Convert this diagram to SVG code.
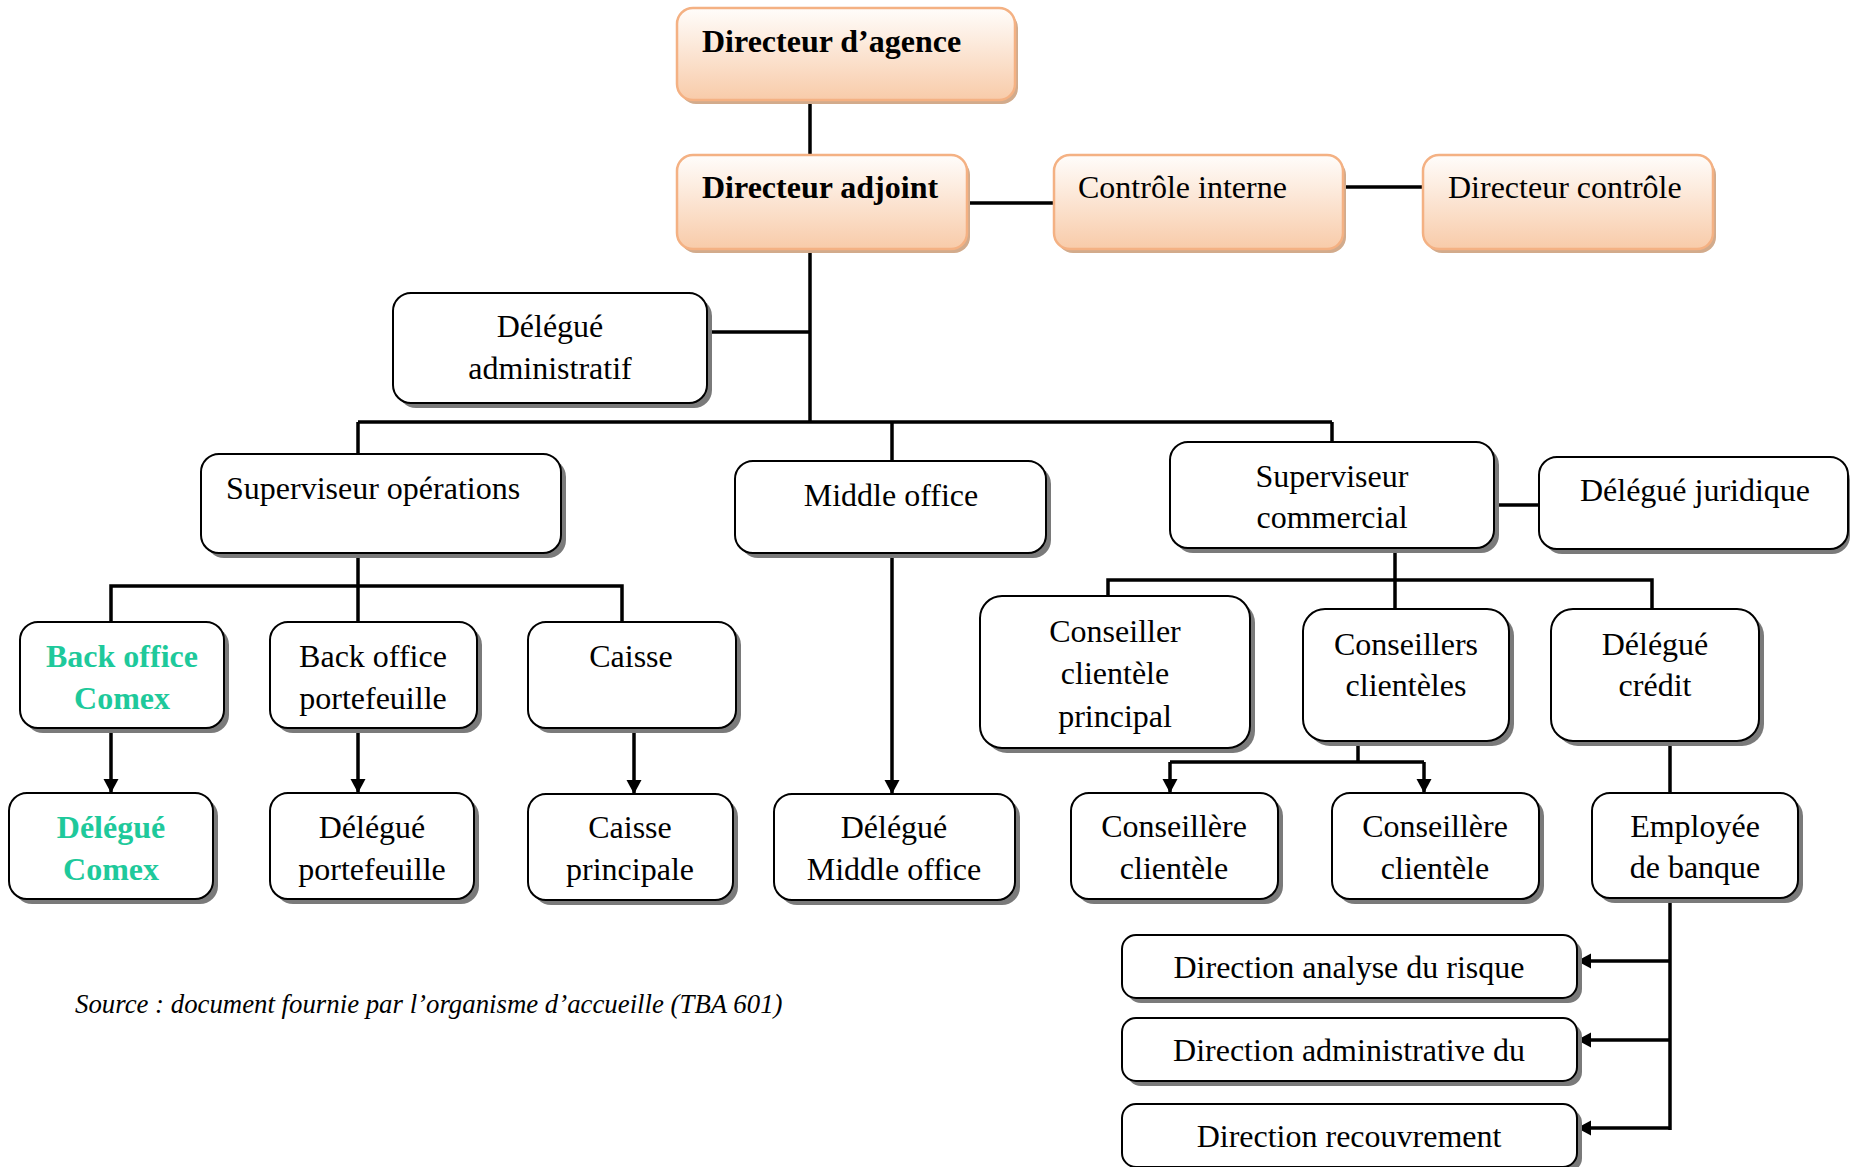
<svg xmlns="http://www.w3.org/2000/svg" width="1852" height="1167" viewBox="0 0 1852 1167">
  <style>
    text { font-family: "Liberation Serif", "Times New Roman", serif; font-size: 32px; fill: #000; }
    .b { font-weight: bold; }
    .g { fill: #1ec99b; font-weight: bold; }
    .c { text-anchor: middle; }
    .box { fill: #fff; stroke: #000; stroke-width: 2; }
    .sh { fill: #7a7a7a; }
    .obox { fill: url(#peach); stroke: #f4b183; stroke-width: 2.5; }
    .osh { fill: #d2ab8c; }
    .ln { fill: none; stroke: #000; stroke-width: 3.5; }
    .ar { fill: none; stroke: #000; stroke-width: 3.5; marker-end: url(#tip); }
    .src { font-size: 26.8px; font-style: italic; }
  </style>
  <defs>
    <linearGradient id="peach" x1="0" y1="0" x2="0" y2="1">
      <stop offset="0" stop-color="#fffdfb"/>
      <stop offset="1" stop-color="#f8cba9"/>
    </linearGradient>
    <marker id="tip" markerUnits="userSpaceOnUse" markerWidth="16" markerHeight="16" refX="14" refY="8" orient="auto">
      <path d="M0,0.5 L14,8 L0,15.5 z" fill="#000"/>
    </marker>
  </defs>

  <!-- connectors -->
  <g id="connectors">
    <path class="ln" d="M810,100 V155"/>
    <path class="ln" d="M967,203 H1054"/>
    <path class="ln" d="M1343,187 H1423"/>
    <path class="ln" d="M810,249 V422"/>
    <path class="ln" d="M707,332 H810"/>
    <path class="ln" d="M358,422 H1332"/>
    <path class="ln" d="M358,422 V454"/>
    <path class="ln" d="M892,422 V461"/>
    <path class="ln" d="M1332,422 V442"/>
    <path class="ln" d="M1494,505 H1539"/>
    <!-- operations branch -->
    <path class="ln" d="M358,553 V586"/>
    <path class="ln" d="M111,622 V586 H622 V622"/>
    <path class="ln" d="M358,586 V622"/>
    <path class="ar" d="M111,728 V793"/>
    <path class="ar" d="M358,728 V793"/>
    <path class="ar" d="M634,728 V794"/>
    <!-- middle office -->
    <path class="ar" d="M892,553 V794"/>
    <!-- commercial branch -->
    <path class="ln" d="M1395,548 V609"/>
    <path class="ln" d="M1108,596 V580 H1652 V609"/>
    <path class="ln" d="M1358,741 V762"/>
    <path class="ln" d="M1170,762 H1424"/>
    <path class="ar" d="M1170,762 V793"/>
    <path class="ar" d="M1424,762 V793"/>
    <path class="ln" d="M1670,740 V793"/>
    <path class="ln" d="M1670,898 V1130"/>
    <path class="ar" d="M1670,961 H1577"/>
    <path class="ar" d="M1670,1040 H1577"/>
    <path class="ar" d="M1670,1128 H1577"/>
  </g>

  <!-- management -->
  <g id="directeur-agence">
    <rect class="osh" x="680" y="12" width="338" height="92" rx="16"/>
    <rect class="obox" x="677" y="8" width="338" height="92" rx="16"/>
    <text class="b" x="702" y="52">Directeur d’agence</text>
  </g>
  <g id="directeur-adjoint">
    <rect class="osh" x="680" y="159" width="290" height="94" rx="16"/>
    <rect class="obox" x="677" y="155" width="290" height="94" rx="16"/>
    <text class="b" x="702" y="198">Directeur adjoint</text>
  </g>
  <g id="controle-interne">
    <rect class="osh" x="1057" y="159" width="289" height="94" rx="16"/>
    <rect class="obox" x="1054" y="155" width="289" height="94" rx="16"/>
    <text x="1078" y="198">Contrôle interne</text>
  </g>
  <g id="directeur-controle">
    <rect class="osh" x="1426" y="159" width="290" height="94" rx="16"/>
    <rect class="obox" x="1423" y="155" width="290" height="94" rx="16"/>
    <text x="1448" y="198">Directeur contrôle</text>
  </g>
  <g id="delegue-administratif">
    <rect class="sh" x="398" y="298" width="314" height="110" rx="18"/>
    <rect class="box" x="393" y="293" width="314" height="110" rx="18"/>
    <text class="c" x="550" y="337">Délégué</text>
    <text class="c" x="550" y="379">administratif</text>
  </g>

  <!-- second level -->
  <g id="superviseur-operations">
    <rect class="sh" x="206" y="459" width="360" height="99" rx="18"/>
    <rect class="box" x="201" y="454" width="360" height="99" rx="18"/>
    <text x="226" y="499">Superviseur opérations</text>
  </g>
  <g id="middle-office">
    <rect class="sh" x="740" y="466" width="311" height="92" rx="18"/>
    <rect class="box" x="735" y="461" width="311" height="92" rx="18"/>
    <text class="c" x="891" y="506">Middle office</text>
  </g>
  <g id="superviseur-commercial">
    <rect class="sh" x="1175" y="447" width="324" height="106" rx="18"/>
    <rect class="box" x="1170" y="442" width="324" height="106" rx="18"/>
    <text class="c" x="1332" y="487">Superviseur</text>
    <text class="c" x="1332" y="528">commercial</text>
  </g>
  <g id="delegue-juridique">
    <rect class="sh" x="1544" y="462" width="306" height="92" rx="18"/>
    <rect class="box" x="1539" y="457" width="309" height="92" rx="18"/>
    <text class="c" x="1695" y="501">Délégué juridique</text>
  </g>

  <!-- operations -->
  <g id="back-office-comex">
    <rect class="sh" x="25" y="627" width="204" height="106" rx="18"/>
    <rect class="box" x="20" y="622" width="204" height="106" rx="18"/>
    <text class="g c" x="122" y="667">Back office</text>
    <text class="g c" x="122" y="709">Comex</text>
  </g>
  <g id="back-office-portefeuille">
    <rect class="sh" x="275" y="627" width="207" height="106" rx="18"/>
    <rect class="box" x="270" y="622" width="207" height="106" rx="18"/>
    <text class="c" x="373" y="667">Back office</text>
    <text class="c" x="373" y="709">portefeuille</text>
  </g>
  <g id="caisse">
    <rect class="sh" x="533" y="627" width="208" height="106" rx="18"/>
    <rect class="box" x="528" y="622" width="208" height="106" rx="18"/>
    <text class="c" x="631" y="667">Caisse</text>
  </g>
  <g id="delegue-comex">
    <rect class="sh" x="14" y="798" width="204" height="106" rx="18"/>
    <rect class="box" x="9" y="793" width="204" height="106" rx="18"/>
    <text class="g c" x="111" y="838">Délégué</text>
    <text class="g c" x="111" y="880">Comex</text>
  </g>
  <g id="delegue-portefeuille">
    <rect class="sh" x="275" y="798" width="204" height="106" rx="18"/>
    <rect class="box" x="270" y="793" width="204" height="106" rx="18"/>
    <text class="c" x="372" y="838">Délégué</text>
    <text class="c" x="372" y="880">portefeuille</text>
  </g>
  <g id="caisse-principale">
    <rect class="sh" x="533" y="799" width="205" height="106" rx="18"/>
    <rect class="box" x="528" y="794" width="205" height="106" rx="18"/>
    <text class="c" x="630" y="838">Caisse</text>
    <text class="c" x="630" y="880">principale</text>
  </g>
  <g id="delegue-middle-office">
    <rect class="sh" x="779" y="799" width="241" height="106" rx="18"/>
    <rect class="box" x="774" y="794" width="241" height="106" rx="18"/>
    <text class="c" x="894" y="838">Délégué</text>
    <text class="c" x="894" y="880">Middle office</text>
  </g>

  <!-- commercial -->
  <g id="conseiller-principal">
    <rect class="sh" x="985" y="601" width="270" height="152" rx="22"/>
    <rect class="box" x="980" y="596" width="270" height="152" rx="22"/>
    <text class="c" x="1115" y="642">Conseiller</text>
    <text class="c" x="1115" y="684">clientèle</text>
    <text class="c" x="1115" y="727">principal</text>
  </g>
  <g id="conseillers-clienteles">
    <rect class="sh" x="1308" y="614" width="206" height="132" rx="22"/>
    <rect class="box" x="1303" y="609" width="206" height="132" rx="22"/>
    <text class="c" x="1406" y="655">Conseillers</text>
    <text class="c" x="1406" y="696">clientèles</text>
  </g>
  <g id="delegue-credit">
    <rect class="sh" x="1556" y="614" width="208" height="132" rx="22"/>
    <rect class="box" x="1551" y="609" width="208" height="132" rx="22"/>
    <text class="c" x="1655" y="655">Délégué</text>
    <text class="c" x="1655" y="696">crédit</text>
  </g>
  <g id="conseillere-1">
    <rect class="sh" x="1076" y="798" width="207" height="106" rx="18"/>
    <rect class="box" x="1071" y="793" width="207" height="106" rx="18"/>
    <text class="c" x="1174" y="837">Conseillère</text>
    <text class="c" x="1174" y="879">clientèle</text>
  </g>
  <g id="conseillere-2">
    <rect class="sh" x="1337" y="798" width="207" height="106" rx="18"/>
    <rect class="box" x="1332" y="793" width="207" height="106" rx="18"/>
    <text class="c" x="1435" y="837">Conseillère</text>
    <text class="c" x="1435" y="879">clientèle</text>
  </g>
  <g id="employee-banque">
    <rect class="sh" x="1597" y="798" width="206" height="105" rx="18"/>
    <rect class="box" x="1592" y="793" width="206" height="105" rx="18"/>
    <text class="c" x="1695" y="837">Employée</text>
    <text class="c" x="1695" y="878">de banque</text>
  </g>
  <g id="direction-risque">
    <rect class="sh" x="1127" y="940" width="455" height="63" rx="14"/>
    <rect class="box" x="1122" y="935" width="455" height="63" rx="14"/>
    <text class="c" x="1349" y="978">Direction analyse du risque</text>
  </g>
  <g id="direction-administrative">
    <rect class="sh" x="1127" y="1023" width="455" height="63" rx="14"/>
    <rect class="box" x="1122" y="1018" width="455" height="63" rx="14"/>
    <text class="c" x="1349" y="1061">Direction administrative du</text>
  </g>
  <g id="direction-recouvrement">
    <rect class="sh" x="1127" y="1109" width="455" height="63" rx="14"/>
    <rect class="box" x="1122" y="1104" width="455" height="63" rx="14"/>
    <text class="c" x="1349" y="1147">Direction recouvrement</text>
  </g>

  <text class="src" x="75" y="1013">Source : document fournie par l’organisme d’accueille (TBA 601)</text>
</svg>
